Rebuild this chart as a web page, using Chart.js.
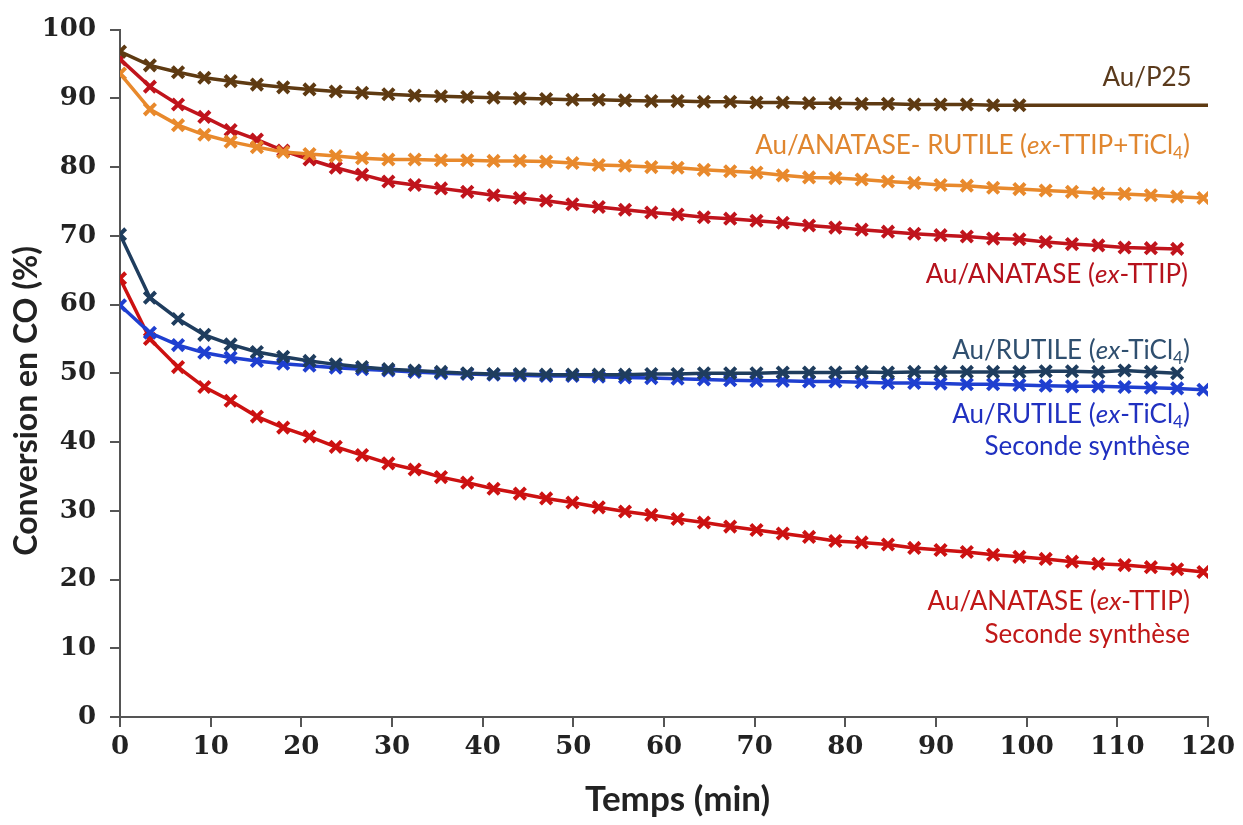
<!DOCTYPE html>
<html>
<head>
<meta charset="utf-8">
<script src="https://cdn.jsdelivr.net/npm/chart.js@4.4.1/dist/chart.umd.min.js"></script>
<style>
  body { margin: 0; background: #fff; }
  canvas { display: block; }
</style>
</head>
<body>
<canvas id="co-chart" width="1243" height="825"></canvas>
<script>
// sampling times (min)
const times = [0, 3.3, 6.4, 9.3, 12.2, 15.1, 18.0, 20.9, 23.8, 26.7, 29.6, 32.5, 35.4, 38.3,
  41.2, 44.1, 47.0, 49.9, 52.8, 55.7, 58.6, 61.5, 64.4, 67.3, 70.2, 73.1, 76.0, 78.9, 81.8,
  84.7, 87.6, 90.5, 93.4, 96.3, 99.2, 102.1, 105.0, 107.9, 110.8, 113.7, 116.6, 119.5];

// conversion values (%)
const auP25 = [96.8, 94.8, 93.8, 93.0, 92.5, 92.0, 91.6, 91.3, 91.0, 90.8, 90.6, 90.4, 90.3,
  90.2, 90.1, 90.0, 89.9, 89.8, 89.8, 89.7, 89.6, 89.6, 89.5, 89.5, 89.4, 89.4, 89.3, 89.3,
  89.2, 89.2, 89.1, 89.1, 89.1, 89.0, 89.0];
const auP25End = [120, 89.0]; // plain line to the end, no marker

const auAnataseRutile = [93.6, 88.4, 86.1, 84.7, 83.7, 82.9, 82.2, 81.9, 81.6, 81.3, 81.1,
  81.1, 81.0, 81.0, 80.9, 80.9, 80.8, 80.6, 80.3, 80.2, 80.0, 79.9, 79.6, 79.4, 79.2, 78.8,
  78.5, 78.4, 78.2, 77.9, 77.7, 77.4, 77.3, 77.0, 76.8, 76.6, 76.4, 76.2, 76.1, 75.9, 75.7, 75.5];

const auAnatase = [95.7, 91.7, 89.1, 87.3, 85.4, 84.0, 82.4, 81.1, 79.9, 78.9, 77.9, 77.4,
  76.9, 76.4, 75.9, 75.5, 75.1, 74.6, 74.2, 73.8, 73.4, 73.1, 72.7, 72.5, 72.2, 71.9, 71.5,
  71.2, 70.9, 70.6, 70.3, 70.1, 69.9, 69.6, 69.5, 69.1, 68.8, 68.6, 68.3, 68.2, 68.1];

const auRutile = [70.2, 61.0, 57.9, 55.6, 54.2, 53.1, 52.4, 51.8, 51.3, 50.9, 50.6, 50.4,
  50.2, 50.0, 49.9, 49.9, 49.8, 49.8, 49.8, 49.8, 49.9, 49.9, 50.0, 50.0, 50.0, 50.1, 50.1,
  50.1, 50.2, 50.1, 50.2, 50.2, 50.2, 50.2, 50.2, 50.3, 50.3, 50.2, 50.4, 50.2, 50.0];

const auRutile2 = [59.9, 55.9, 54.1, 53.0, 52.3, 51.8, 51.4, 51.1, 50.8, 50.6, 50.4, 50.2,
  50.0, 49.9, 49.8, 49.7, 49.6, 49.6, 49.5, 49.4, 49.3, 49.2, 49.1, 49.0, 48.9, 48.9, 48.8,
  48.8, 48.7, 48.6, 48.6, 48.5, 48.4, 48.4, 48.3, 48.2, 48.1, 48.1, 48.0, 47.9, 47.8, 47.6];

const auAnatase2 = [63.8, 55.0, 50.9, 48.0, 46.0, 43.7, 42.1, 40.8, 39.3, 38.1, 36.9, 36.0,
  34.9, 34.1, 33.2, 32.5, 31.8, 31.2, 30.5, 29.9, 29.4, 28.8, 28.3, 27.7, 27.2, 26.7, 26.2,
  25.6, 25.4, 25.1, 24.6, 24.3, 24.0, 23.6, 23.3, 23.0, 22.6, 22.3, 22.1, 21.8, 21.5, 21.1];

const xTicks = [0, 10, 20, 30, 40, 50, 60, 70, 80, 90, 100, 110, 120];
const yTicks = [0, 10, 20, 30, 40, 50, 60, 70, 80, 90, 100];

// pair values with times
const toPoints = (vals) => vals.map((v, i) => ({ x: times[i], y: v }));

const p25Points = toPoints(auP25);
p25Points.push({ x: auP25End[0], y: auP25End[1] });

const MARK = 8;
const makeSet = (label, points, color) => ({
  label,
  data: points,
  borderColor: color,
  backgroundColor: color,
  borderWidth: 3.5,
  pointStyle: "crossRot",
  pointRadius: MARK,
  pointBorderWidth: 4,
  tension: 0,
});

const datasets = [
  makeSet("Au/P25", p25Points, "#5e3a12"),
  makeSet("Au/ANATASE- RUTILE", toPoints(auAnataseRutile), "#e8892c"),
  makeSet("Au/ANATASE", toPoints(auAnatase), "#c0141c"),
  makeSet("Au/RUTILE", toPoints(auRutile), "#1f3d5e"),
  makeSet("Au/RUTILE 2", toPoints(auRutile2), "#1f3fd0"),
  makeSet("Au/ANATASE 2", toPoints(auAnatase2), "#cc1111"),
];
// last P25 point is just the line end
datasets[0].pointRadius = (ctx) => (ctx.dataIndex === p25Points.length - 1 ? 0 : MARK);

// text labels inside the plot, right aligned at x, centred on y (data units)
const labels = [
  { x: 118.2, y: 93.0, color: "#5a3a1c", parts: [{ t: "Au/P25" }] },
  { x: 118.0, y: 83.1, color: "#e0862f", parts: [{ t: "Au/ANATASE- RUTILE (" }, { t: "ex", i: true }, { t: "-TTIP+TiCl" }, { t: "4", sub: true }, { t: ")" }] },
  { x: 117.8, y: 64.3, color: "#b5121c", parts: [{ t: "Au/ANATASE (" }, { t: "ex", i: true }, { t: "-TTIP)" }] },
  { x: 118.0, y: 53.3, color: "#2f4f6f", parts: [{ t: "Au/RUTILE (" }, { t: "ex", i: true }, { t: "-TiCl" }, { t: "4", sub: true }, { t: ")" }] },
  { x: 118.0, y: 44.0, color: "#2030c0", parts: [{ t: "Au/RUTILE (" }, { t: "ex", i: true }, { t: "-TiCl" }, { t: "4", sub: true }, { t: ")" }] },
  { x: 118.0, y: 39.3, color: "#2030c0", parts: [{ t: "Seconde synthèse" }] },
  { x: 118.0, y: 16.8, color: "#c01818", parts: [{ t: "Au/ANATASE (" }, { t: "ex", i: true }, { t: "-TTIP)" }] },
  { x: 118.0, y: 12.0, color: "#c01818", parts: [{ t: "Seconde synthèse" }] },
];

const LABEL_SIZE = 26;
const partFont = (p) => {
  const size = p.sub ? Math.round(LABEL_SIZE * 0.65) : LABEL_SIZE;
  return `${p.i ? "italic " : ""}${size}px Lato`;
};

const labelPlugin = {
  id: "seriesLabels",
  afterDatasetsDraw(chart) {
    const { ctx, scales } = chart;
    ctx.save();
    ctx.textBaseline = "middle";
    ctx.textAlign = "left";
    labels.forEach((lab) => {
      let w = 0;
      lab.parts.forEach((p) => { ctx.font = partFont(p); w += ctx.measureText(p.t).width; });
      let x = scales.x.getPixelForValue(lab.x) - w;
      const y = scales.y.getPixelForValue(lab.y);
      ctx.fillStyle = lab.color;
      lab.parts.forEach((p) => {
        ctx.font = partFont(p);
        ctx.fillText(p.t, x, p.sub ? y + LABEL_SIZE * 0.3 : y);
        x += ctx.measureText(p.t).width;
      });
    });
    ctx.restore();
  },
};

// axis titles, placed a bit off-centre like the original figure
const axisTitles = {
  id: "axisTitles",
  afterDraw(chart) {
    const { ctx, scales } = chart;
    ctx.save();
    ctx.fillStyle = "#222";
    ctx.textAlign = "center";
    ctx.textBaseline = "middle";
    ctx.font = "bold 35px Lato";
    ctx.fillText("Temps (min)", scales.x.getPixelForValue(61.5), 800);
    ctx.translate(27, scales.y.getPixelForValue(46));
    ctx.rotate(-Math.PI / 2);
    ctx.font = "bold 32px Lato";
    ctx.fillText("Conversion en CO (%)", 0, 0);
    ctx.restore();
  },
};

const tickFont = { family: "DejaVu Serif", size: 26, weight: "bold" };

const config = {
  type: "line",
  data: { datasets },
  options: {
    responsive: false,
    animation: false,
    layout: { padding: { top: 19, right: 35, left: 0, bottom: 0 } },
    plugins: { legend: { display: false }, tooltip: { enabled: false } },
    scales: {
      x: {
        type: "linear",
        min: 0,
        max: 120,
        afterBuildTicks: (scale) => { scale.ticks = xTicks.map((v) => ({ value: v })); },
        afterFit: (scale) => { scale.height = 108; },
        border: { color: "#555", width: 2 },
        grid: { drawOnChartArea: false, drawTicks: true, tickLength: 10, color: "#555", lineWidth: 2 },
        ticks: { font: tickFont, color: "#222", padding: 5, maxRotation: 0 },
      },
      y: {
        min: 0,
        max: 100,
        afterBuildTicks: (scale) => { scale.ticks = yTicks.map((v) => ({ value: v })); },
        afterFit: (scale) => { scale.width = 120; },
        border: { color: "#555", width: 2 },
        grid: { drawOnChartArea: false, drawTicks: true, tickLength: 10, color: "#555", lineWidth: 2 },
        ticks: { font: tickFont, color: "#222", padding: 14 },
      },
    },
  },
  plugins: [labelPlugin, axisTitles],
};

const coChart = new Chart(document.getElementById("co-chart"), config);
</script>
</body>
</html>
